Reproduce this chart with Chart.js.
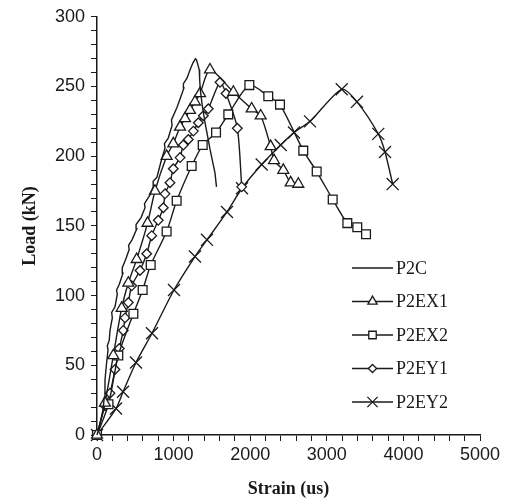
<!DOCTYPE html>
<html>
<head>
<meta charset="utf-8">
<script src="https://cdn.jsdelivr.net/npm/chart.js@4/dist/chart.umd.min.js"></script>
<style>
  html, body { margin: 0; padding: 0; background: #fff; }
  #chart { display: block; }
</style>
</head>
<body>
<canvas id="chart" width="512" height="501"></canvas>
<script>
// values (strain in us, load in kN)
const p2cStrain = [0, 40, 78, 95, 104, 122, 144, 135, 160, 170, 200, 192, 235, 265, 255, 290, 339, 330, 375, 420, 412, 457, 520, 510, 575, 627, 620, 690, 740, 733, 783, 835, 888, 880, 930, 980, 972, 1044, 1090, 1135, 1128, 1175, 1215, 1253, 1285, 1300, 1335, 1340, 1350, 1375, 1410, 1445, 1475, 1510, 1540, 1560];
const p2cLoad = [0, 8, 18, 27, 39, 50, 61, 64, 68, 75, 84, 88, 92, 101, 104, 108, 116, 120, 126, 133, 136, 140, 148, 151, 156, 163, 166, 172, 179, 182, 185, 196, 206, 209, 213, 222, 226, 235, 242, 249, 252, 256, 262, 267, 270, 269, 262, 255, 247, 236, 224, 214, 205, 196, 188, 178];

const p2ex1Strain = [0, 104, 213, 322, 409, 518, 660, 757, 909, 996, 1084, 1149, 1214, 1279, 1345, 1475, 1780, 2019, 2137, 2267, 2311, 2432, 2528, 2628];
const p2ex1Load = [0, 23, 57, 91, 109, 126, 152, 175, 200, 209, 221, 227, 233, 239, 245, 262, 246, 234, 229, 207, 197, 190, 181, 180];

const p2ex2Strain = [0, 150, 278, 475, 596, 701, 909, 1040, 1236, 1380, 1554, 1714, 1989, 2236, 2389, 2693, 2868, 3077, 3268, 3398, 3512];
const p2ex2Load = [0, 22, 57, 87, 104, 122, 146, 168, 193, 208, 217, 230, 251, 243, 237, 204, 189, 169, 152, 149, 144];

const p2ey1Strain = [0, 104, 170, 235, 291, 343, 366, 409, 453, 561, 649, 714, 800, 866, 888, 953, 996, 1084, 1127, 1192, 1258, 1323, 1388, 1453, 1606, 1684, 1832, 1889];
const p2ey1Load = [0, 21, 30, 47, 62, 75, 84, 95, 107, 118, 130, 143, 154, 163, 173, 181, 191, 199, 208, 212, 218, 224, 229, 234, 253, 245, 220, 178];

const p2ey2Strain = [0, 248, 340, 509, 718, 1005, 1279, 1436, 1697, 1893, 2150, 2398, 2572, 2781, 3195, 3394, 3672, 3760, 3860];
const p2ey2Load = [0, 19, 31, 52, 73, 104, 128, 140, 160, 177, 194, 208, 217, 225, 248, 239, 216, 203, 180];

const seriesNames = ["P2C", "P2EX1", "P2EX2", "P2EY1", "P2EY2"];

const INK = "#1a1a1a";

function zip(xs, ys) {
  return xs.map((x, i) => ({ x, y: ys[i] }));
}

function lineSet(label, points, style, radius) {
  return {
    label,
    data: points,
    showLine: true,
    borderColor: INK,
    borderWidth: 1.4,
    pointStyle: style || false,
    pointRadius: style ? radius : 0,
    pointBackgroundColor: "#fff",
    pointBorderColor: INK,
    pointBorderWidth: 1.3,
    tension: style ? 0.25 : 0,
    clip: false
  };
}

// legend drawn inside the plot, line + marker + name
const inlineLegend = {
  id: "inlineLegend",
  afterDatasetsDraw(chart) {
    const ctx = chart.ctx;
    const x0 = 352;
    const x1 = 393;
    chart.data.datasets.forEach((ds, i) => {
      const y = 268 + i * 33.5;
      ctx.save();
      ctx.strokeStyle = INK;
      ctx.lineWidth = 1.4;
      ctx.beginPath();
      ctx.moveTo(x0, y);
      ctx.lineTo(x1, y);
      ctx.stroke();
      if (ds.pointStyle && Chart.helpers && Chart.helpers.drawPoint) {
        ctx.fillStyle = "#fff";
        ctx.lineWidth = ds.pointBorderWidth;
        Chart.helpers.drawPoint(ctx, {
          pointStyle: ds.pointStyle,
          radius: ds.pointRadius * 0.85,
          borderWidth: ds.pointBorderWidth,
          rotation: 0
        }, (x0 + x1) / 2, y);
      }
      ctx.fillStyle = INK;
      ctx.font = "18px 'Liberation Serif', 'Times New Roman', serif";
      ctx.textAlign = "left";
      ctx.textBaseline = "middle";
      ctx.fillText(ds.label, 396, y + 1);
      ctx.restore();
    });
  }
};

new Chart(document.getElementById("chart"), {
  type: "scatter",
  data: {
    datasets: [
      lineSet(seriesNames[0], zip(p2cStrain, p2cLoad), null, 0),
      lineSet(seriesNames[1], zip(p2ex1Strain, p2ex1Load), "triangle", 6.3),
      lineSet(seriesNames[2], zip(p2ex2Strain, p2ex2Load), "rect", 6.2),
      lineSet(seriesNames[3], zip(p2ey1Strain, p2ey1Load), "rectRot", 4.8),
      lineSet(seriesNames[4], zip(p2ey2Strain, p2ey2Load), "crossRot", 8.5)
    ]
  },
  options: {
    responsive: false,
    animation: false,
    layout: { padding: { top: 16, right: 32, bottom: 0, left: 0 } },
    plugins: {
      legend: { display: false },
      tooltip: { enabled: false }
    },
    scales: {
      x: {
        type: "linear",
        min: 0,
        max: 5000,
        ticks: {
          stepSize: 200,
          autoSkip: false,
          maxRotation: 0,
          padding: 3,
          color: INK,
          font: { family: "'Liberation Sans', Arial, sans-serif", size: 18 },
          callback: (v) => (v % 1000 === 0 ? v : "")
        },
        grid: { drawOnChartArea: false, drawTicks: true, tickLength: 6, color: INK, lineWidth: 1 },
        border: { color: INK, width: 1.5 },
        title: {
          display: true,
          text: "Strain (us)",
          color: INK,
          padding: { top: 0, bottom: 1 },
          font: { family: "'Liberation Serif', 'Times New Roman', serif", size: 18, weight: "bold" }
        },
        afterFit: (s) => { s.height = 66; }
      },
      y: {
        type: "linear",
        min: 0,
        max: 300,
        ticks: {
          stepSize: 10,
          autoSkip: false,
          padding: 6,
          color: INK,
          font: { family: "'Liberation Sans', Arial, sans-serif", size: 18 },
          callback: (v) => (v % 50 === 0 ? v : "")
        },
        grid: { drawOnChartArea: false, drawTicks: true, tickLength: 6, color: INK, lineWidth: 1 },
        border: { color: INK, width: 1.5 },
        title: {
          display: true,
          text: "Load (kN)",
          color: INK,
          padding: { top: 20, bottom: 0 },
          font: { family: "'Liberation Serif', 'Times New Roman', serif", size: 18, weight: "bold" }
        },
        afterFit: (s) => { s.width = 97; }
      }
    }
  },
  plugins: [inlineLegend]
});
</script>
</body>
</html>
